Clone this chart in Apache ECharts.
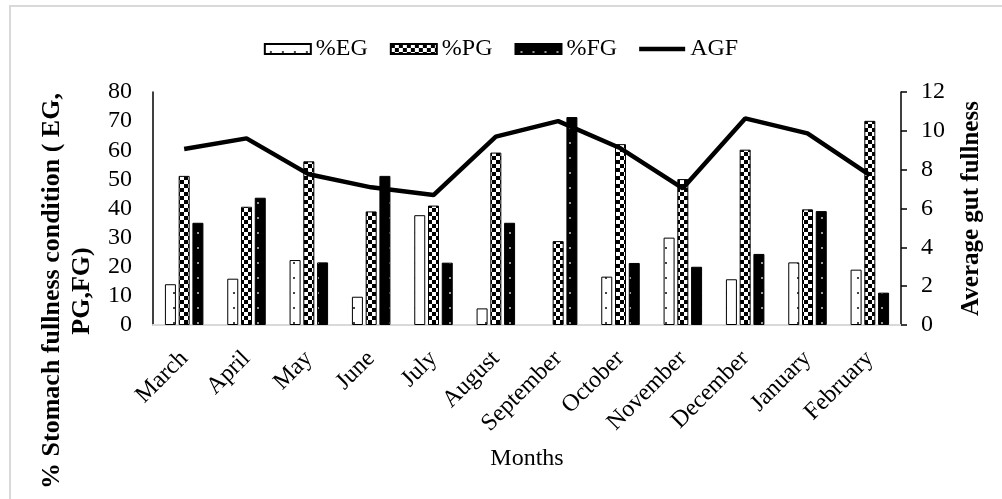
<!DOCTYPE html>
<html>
<head>
<meta charset="utf-8">
<script src="https://cdn.jsdelivr.net/npm/echarts@6/dist/echarts.min.js"></script>
<style>html,body{margin:0;padding:0;background:#fff;}#c{width:1002px;height:499px;}</style>
</head>
<body>
<div id="c"></div>
<script>
const months = ['March','April','May','June','July','August','September','October','November','December','January','February'];
const EG = [14.0, 15.9, 22.3, 9.7, 37.7, 5.7, null, 16.6, 30.0, 15.7, 21.5, 19.0];
const PG = [51.2, 40.6, 56.2, 39.0, 41.0, 59.2, 28.8, 62.1, 50.1, 60.2, 39.7, 70.1];
const FG = [35.1, 43.7, 21.5, 51.2, 21.4, 35.1, 71.4, 21.3, 20.0, 24.4, 39.1, 11.1];
const AGF = [9.06, 9.61, 7.76, 7.09, 6.69, 9.70, 10.50, 9.10, 7.04, 10.64, 9.87, 7.72];
const leftTicks = [0,10,20,30,40,50,60,70,80];
const rightTicks = [0,2,4,6,8,10,12];

function mk(w,h,draw){const c=document.createElement('canvas');c.width=w;c.height=h;const g=c.getContext('2d');draw(g);return c;}
const egPat = mk(12,15,g=>{g.fillStyle='#fff';g.fillRect(0,0,12,15);g.fillStyle='#444';g.fillRect(5,7,2,2);});
const pgPat = mk(8,8,g=>{g.fillStyle='#fff';g.fillRect(0,0,8,8);g.fillStyle='#000';g.fillRect(0,0,4,4);g.fillRect(4,4,4,4);});
const fgPat = mk(12,15,g=>{g.fillStyle='#000';g.fillRect(0,0,12,15);g.fillStyle='#999';g.fillRect(5,7,2,2);});

const FONT = '"Liberation Serif","Times New Roman",serif';
const FS = 24;
const lineIcon = 'path://M0,0 L1,0 L1,0.01 Z M0,2.6 L50,2.6 L50,7.4 L0,7.4 Z M0,10 L1,10 L1,9.99 Z';
const chart = echarts.init(document.getElementById('c'), null, {renderer:'canvas'});
chart.setOption({
  animation:false,
  backgroundColor:'#fff',
  textStyle:{fontFamily:FONT,color:'#000'},
  legend:{
    top:32, left:'center', itemWidth:46, itemHeight:10, itemGap:22,
    textStyle:{fontFamily:FONT,fontSize:FS,color:'#000'},
    data:[{name:'%EG',icon:'rect'},{name:'%PG',icon:'rect'},{name:'%FG',icon:'rect'},
      {name:'AGF',icon:lineIcon,itemStyle:{color:'#000',borderWidth:0}}]
  },
  grid:{left:153,right:101,top:92,bottom:174,containLabel:false},
  xAxis:{
    type:'category', data:months,
    axisLine:{lineStyle:{color:'#d9d9d9',width:2}},
    axisTick:{show:false},
    axisLabel:{interval:0,rotate:45,fontFamily:FONT,fontSize:FS,color:'#000',margin:30},
    name:'Months', nameLocation:'middle', nameGap:122,
    nameTextStyle:{fontFamily:FONT,fontSize:FS,color:'#000'}
  },
  yAxis:[{
    type:'value', min:0, max:80, interval:10,
    axisLine:{show:true,lineStyle:{color:'#000',width:1.5}},
    axisTick:{show:false}, splitLine:{show:false},
    axisLabel:{fontFamily:FONT,fontSize:FS,color:'#000',margin:21}
  },{
    type:'value', min:0, max:12, interval:2, position:'right',
    axisLine:{show:true,lineStyle:{color:'#000',width:1.5}},
    axisTick:{show:true,inside:false,length:6,lineStyle:{color:'#000',width:1.5}},
    splitLine:{show:false},
    axisLabel:{fontFamily:FONT,fontSize:FS,color:'#000',margin:20},
    name:'Average gut fullness', nameLocation:'middle', nameGap:58, nameRotate:90,
    nameTextStyle:{fontFamily:FONT,fontSize:25,fontWeight:'bold',color:'#000'}
  }],
  series:[
    {name:'%EG',type:'bar',data:EG,barWidth:11,barGap:'25%',
      itemStyle:{color:{image:egPat,repeat:'repeat'},borderColor:'#000',borderWidth:1}},
    {name:'%PG',type:'bar',data:PG,barWidth:11,barGap:'25%',
      itemStyle:{color:{image:pgPat,repeat:'repeat'},borderColor:'#000',borderWidth:1}},
    {name:'%FG',type:'bar',data:FG,barWidth:11,barGap:'25%',
      itemStyle:{color:{image:fgPat,repeat:'repeat'},borderColor:'#000',borderWidth:1}},
    {name:'AGF',type:'line',yAxisIndex:1,data:AGF,showSymbol:false,symbol:'none',
      lineStyle:{color:'#000',width:4.5},itemStyle:{color:'#000'},z:5}
  ],
  graphic:[
    {type:'rect',shape:{x:10,y:6,width:1000,height:500},style:{fill:'none',stroke:'#d9d9d9',lineWidth:2},silent:true},
    {type:'text',x:67,y:291,rotation:Math.PI/2,
      style:{text:'% Stomach fullness condition ( EG,\nPG,FG)',font:'bold 26px '+FONT,fill:'#000',align:'center',verticalAlign:'middle',lineHeight:30}}
  ]
});
</script>
</body>
</html>
